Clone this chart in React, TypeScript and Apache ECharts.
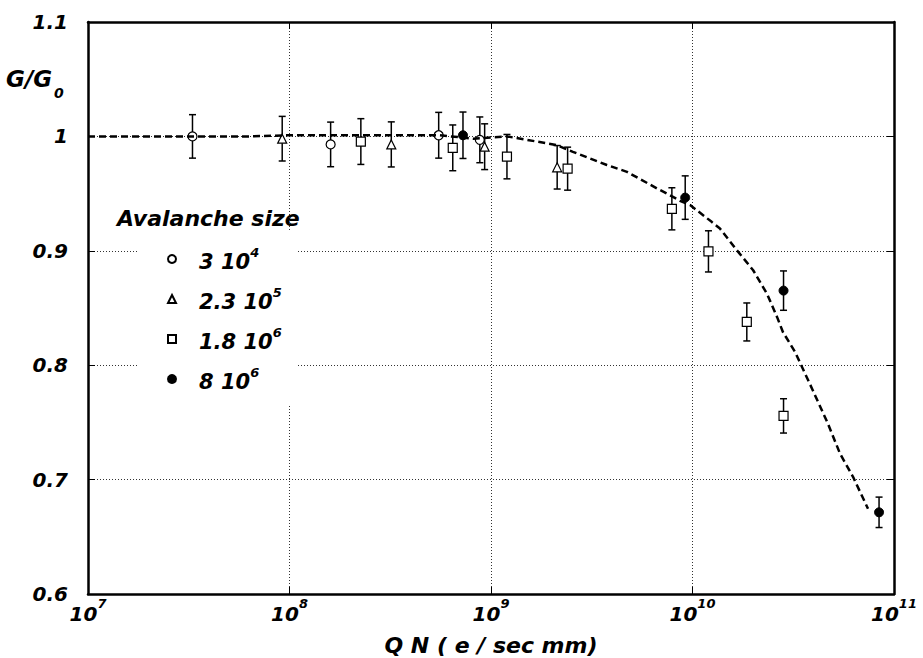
import React, { useEffect, useRef } from "react";
import * as echarts from "echarts";

// Avalanche size 3 10^4
const circleX = [3.3e7, 1.6e8, 5.5e8, 8.8e8];
const circleY = [1.0, 0.993, 1.001, 0.997];
const circleErr = [0.019, 0.0195, 0.02, 0.02];

// Avalanche size 2.3 10^5
const triangleX = [9.2e7, 3.2e8, 9.3e8, 2.13e9];
const triangleY = [0.998, 0.993, 0.991, 0.973];
const triangleErr = [0.0195, 0.0197, 0.02, 0.019];

// Avalanche size 1.8 10^6
const squareX = [2.26e8, 6.46e8, 1.2e9, 2.4e9, 7.9e9, 1.2e10, 1.86e10, 2.83e10];
const squareY = [0.9955, 0.99, 0.9823, 0.9718, 0.9367, 0.8995, 0.8378, 0.7557];
const squareErr = [0.02, 0.02, 0.0194, 0.0188, 0.0184, 0.018, 0.0166, 0.015];

// Avalanche size 8 10^6
const dotX = [7.26e8, 9.2e9, 2.83e10, 8.43e10];
const dotY = [1.001, 0.9465, 0.8652, 0.6714];
const dotErr = [0.0203, 0.019, 0.0172, 0.0133];

// Calculated gain curve
const curveX = [
  1e7, 6.3e7, 1.0e8, 5.58e8, 8.15e8, 1.2e9, 1.507e9, 2.12e9, 2.55e9, 3.76e9,
  4.73e9, 6.67e9, 8.0e9, 8.67e9, 9.73e9, 1.245e10, 1.368e10, 1.66e10, 2.0e10,
  2.34e10, 2.63e10, 2.81e10, 3.23e10, 3.92e10, 4.7e10, 5.4e10, 6.27e10, 7.43e10,
];
const curveY = [
  1.0, 1.0, 1.001, 1.001, 0.998, 1.0, 0.997, 0.9924, 0.9865, 0.975, 0.969,
  0.9545, 0.9472, 0.9437, 0.94, 0.9253, 0.9195, 0.9005, 0.883, 0.8626, 0.842,
  0.829, 0.8115, 0.7795, 0.7489, 0.7226, 0.7022, 0.6745,
];

// Legend labels: mantissa and power of ten
const legendBase = ["3 10", "2.3 10", "1.8 10", "8 10"];
const legendPow = ["4", "5", "6", "6"];
const seriesNames = ["s0", "s1", "s2", "s3"];

const FONT = "DejaVu Sans";
const baseText = {
  fontFamily: FONT,
  fontStyle: "italic" as const,
  fontWeight: "bold" as const,
  color: "#000",
};

function zip(xs: number[], ys: number[]) {
  return xs.map((x, i) => [x, ys[i]]);
}
function zipErr(xs: number[], ys: number[], es: number[]) {
  return xs.map((x, i) => [x, ys[i], es[i]]);
}

function errorBarSeries(data: number[][]) {
  return {
    type: "custom",
    silent: true,
    z: 2,
    encode: { x: 0, y: 1 },
    data,
    renderItem: (_params: any, api: any) => {
      const x = api.value(0);
      const y = api.value(1);
      const e = api.value(2);
      const top = api.coord([x, y + e]);
      const bot = api.coord([x, y - e]);
      const w = 3.5;
      const st = { stroke: "#000", lineWidth: 1.5 };
      return {
        type: "group",
        children: [
          { type: "line", shape: { x1: top[0], y1: top[1], x2: bot[0], y2: bot[1] }, style: st },
          { type: "line", shape: { x1: top[0] - w, y1: top[1], x2: top[0] + w, y2: top[1] }, style: st },
          { type: "line", shape: { x1: bot[0] - w, y1: bot[1], x2: bot[0] + w, y2: bot[1] }, style: st },
        ],
      };
    },
  };
}

export default function App() {
  const ref = useRef<HTMLDivElement>(null);

  useEffect(() => {
    if (!ref.current) return;
    const chart = echarts.init(ref.current, undefined, { renderer: "svg" });

    const axisLine = { show: true, onZero: false, lineStyle: { color: "#000", width: 2.5 } };
    const tick = { show: true, inside: true, length: 7, lineStyle: { color: "#000", width: 1 } };
    const split = { show: true, lineStyle: { color: "#333", width: 1, type: [1, 2] as any } };

    const hollow = { color: "#fff", borderColor: "#000", borderWidth: 1.2, opacity: 1 };

    chart.setOption({
      animation: false,
      grid: {
        left: 88,
        right: 29,
        top: 22,
        bottom: 64,
        containLabel: false,
        outerBoundsMode: "none",
      },
      xAxis: [
        {
          type: "log",
          logBase: 10,
          min: 1e7,
          max: 1e11,
          position: "bottom",
          axisLine,
          axisTick: tick,
          splitLine: split,
          minorTick: { show: false },
          name: "Q N ( e / sec mm)",
          nameLocation: "middle",
          nameGap: 40,
          nameTextStyle: { ...baseText, fontSize: 22 },
          axisLabel: {
            margin: 3,
            formatter: (v: number) => `{b|10}{s|${Math.round(Math.log10(v))}}`,
            rich: {
              b: { ...baseText, fontSize: 20, lineHeight: 27, verticalAlign: "bottom" },
              s: { ...baseText, fontSize: 13, lineHeight: 13, verticalAlign: "top" },
            },
          },
        },
        {
          type: "log",
          logBase: 10,
          min: 1e7,
          max: 1e11,
          position: "top",
          axisLine,
          axisTick: tick,
          splitLine: { show: false },
          axisLabel: { show: false },
        },
      ],
      yAxis: [
        {
          type: "value",
          min: 0.6,
          max: 1.1,
          interval: 0.1,
          axisLine,
          axisTick: tick,
          splitLine: split,
          axisLabel: {
            ...baseText,
            fontSize: 20,
            margin: 20,
            formatter: (v: number) => (Math.abs(v - 1) < 1e-9 ? "1" : v.toFixed(1)),
          },
        },
        {
          type: "value",
          min: 0.6,
          max: 1.1,
          interval: 0.1,
          position: "right",
          axisLine,
          axisTick: tick,
          splitLine: { show: false },
          axisLabel: { show: false },
        },
      ],
      legend: {
        orient: "vertical",
        left: 138,
        top: 230,
        selectedMode: false,
        data: seriesNames,
        itemWidth: 8,
        itemHeight: 8,
        itemGap: 14,
        backgroundColor: "#fff",
        padding: [16, 16, 13, 29],
        formatter: (name: string) => {
          const i = seriesNames.indexOf(name);
          return `{b|${legendBase[i]}}{s|${legendPow[i]}}`;
        },
        textStyle: {
          ...baseText,
          fontSize: 21,
          padding: [0, 0, 0, 18],
          rich: {
            b: { ...baseText, fontSize: 21, lineHeight: 26, verticalAlign: "bottom" },
            s: { ...baseText, fontSize: 13, lineHeight: 13, verticalAlign: "top" },
          },
        },
      },
      graphic: [
        {
          type: "text",
          left: 117,
          top: 207,
          style: { ...baseText, fill: "#000", text: "Avalanche size", fontSize: 22 },
        },
        {
          type: "text",
          x: 6,
          y: 79,
          style: { ...baseText, fill: "#000", text: "G/G", fontSize: 23, verticalAlign: "middle" },
        },
        {
          type: "text",
          x: 54,
          y: 93,
          style: { ...baseText, fill: "#000", text: "0", fontSize: 14, verticalAlign: "middle" },
        },
      ],
      series: [
        errorBarSeries(zipErr(circleX, circleY, circleErr)),
        errorBarSeries(zipErr(triangleX, triangleY, triangleErr)),
        errorBarSeries(zipErr(squareX, squareY, squareErr)),
        errorBarSeries(zipErr(dotX, dotY, dotErr)),
        {
          name: seriesNames[0],
          type: "scatter",
          symbol: "circle",
          symbolSize: 9,
          itemStyle: hollow,
          data: zip(circleX, circleY),
          z: 3,
        },
        {
          name: seriesNames[1],
          type: "scatter",
          symbol: "triangle",
          symbolSize: 9,
          itemStyle: hollow,
          data: zip(triangleX, triangleY),
          z: 3,
        },
        {
          name: seriesNames[2],
          type: "scatter",
          symbol: "rect",
          symbolSize: 9,
          itemStyle: hollow,
          data: zip(squareX, squareY),
          z: 3,
        },
        {
          name: seriesNames[3],
          type: "scatter",
          symbol: "circle",
          symbolSize: 9,
          itemStyle: { color: "#000", borderColor: "#000", borderWidth: 1, opacity: 1 },
          data: zip(dotX, dotY),
          z: 3,
        },
        {
          type: "line",
          silent: true,
          showSymbol: false,
          symbol: "none",
          data: zip(curveX, curveY),
          lineStyle: { color: "#000", width: 2.5, type: [7, 4] as any },
          z: 4,
        },
      ],
    });

    return () => chart.dispose();
  }, []);

  return (
    <div
      ref={ref}
      style={{ position: "absolute", left: 0, top: 0, width: 923, height: 658, background: "#fff" }}
    />
  );
}
